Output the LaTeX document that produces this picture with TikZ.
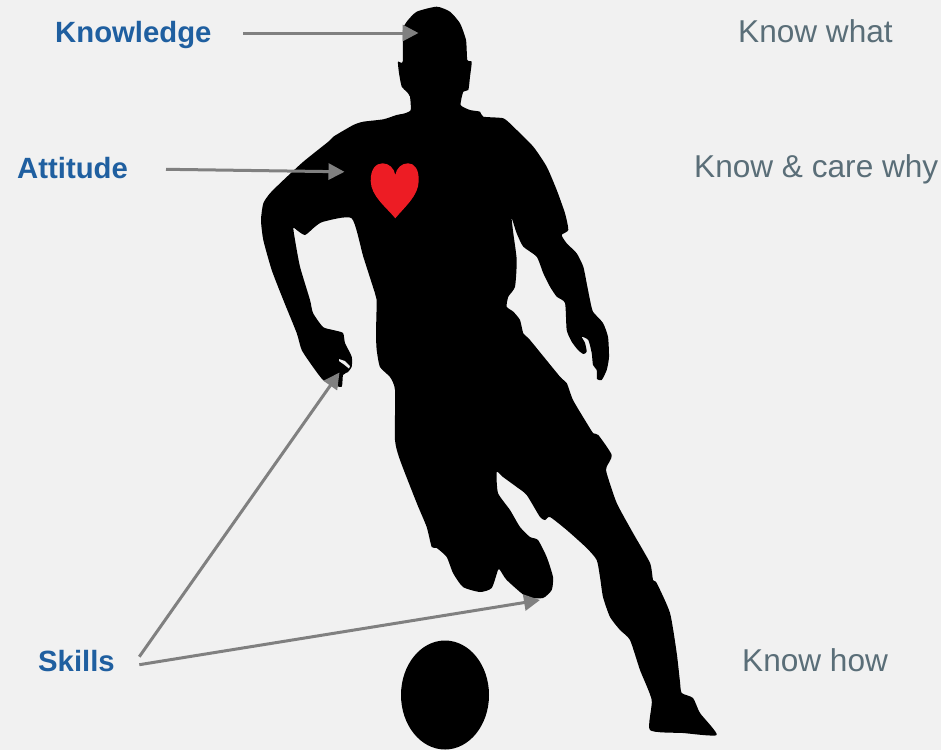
\documentclass[tikz,border=0pt]{standalone}
\usepackage{fontspec}
\setmainfont{Liberation Sans}
\usetikzlibrary{arrows.meta,shapes.geometric}
\definecolor{bg}{HTML}{F1F1F1}
\definecolor{labblue}{HTML}{1F5FA0}
\definecolor{descgray}{HTML}{5A6E78}
\definecolor{arrgray}{HTML}{808080}
\definecolor{heartred}{HTML}{ED1C24}
\tikzset{
  lab/.style={font=\bfseries\fontsize{29.3}{34}\selectfont, text=labblue, inner sep=0pt, anchor=base west},
  desc/.style={font=\fontsize{31.6}{37}\selectfont, text=descgray, inner sep=0pt, anchor=base west},
  arr/.style={draw=arrgray, line width=3pt, -{Triangle[length=16pt,width=16pt]}},
  silhouette/.style={fill=black}
}
\begin{document}
\begin{tikzpicture}[x=1pt,y=-1pt]
\path[fill=bg] (0,0) rectangle (941,750);
\useasboundingbox (0,0) rectangle (941,750);

% player silhouette
\fill[silhouette] plot[smooth cycle, tension=0.35] coordinates {
(436.7,6.7) (450,11.7) (460,23.3) (466,40) (467.3,60) (471.7,61.7) (470,76.7) (468.3,90) (463.3,91.7) (460.7,105) (470,110) (480,111.7) (483.3,116.7) (503.3,118.3) (513.3,126.7) (533.3,146.7) (546.7,166.7) (556.7,190) (565,213.3) (568.3,230) (561.7,235) (566.7,243.3) (576.7,253.3) (583.3,266.7) (586.7,283.3) (590,300) (593,311.7) (603,323) (608,337) (609,357) (606.7,370) (601.7,380) (597,379) (596.7,370) (593,365) (591.7,353) (588.3,340) (581.7,336.7) (585,343) (586.7,351.7) (583.3,354) (578,350) (571.7,341.7) (566.7,330) (565,303) (556.7,296.7) (550,286.7) (543.3,273.3) (536.7,256.7) (523.3,246.7) (516.7,233.3) (511.7,218.3) (513.3,233.3) (516.7,260) (515,286.7) (508.3,296.7) (506.7,306.7) (513.3,311.7) (520,320) (523.3,333.3) (530,340) (560,376.7) (566.7,383) (573,400) (586.7,423) (593.3,433.3) (598.3,435) (611.7,455) (606.7,466.7) (606.7,473.3) (616.7,503) (633,533) (650,563) (653,580) (656.7,583) (670,613) (676.7,653) (680,682) (681.7,693) (693,698) (700,713) (716.7,735) (683,733) (650,730) (651.7,700) (640,670) (630,640) (620,630) (610,617) (603,597) (600,577) (596.7,560) (586.7,548) (566.7,530) (550,517) (545,520) (540,517) (526.7,495) (516.7,487) (503,477) (496.7,472) (498,493) (510,510) (520,527) (530,537) (538,540) (546.7,557) (553,577) (551.7,590) (543,598) (526.7,597) (506.7,580) (500,570) (498,570) (491.7,588) (480,592) (463,587) (453,573) (446.7,557) (436.7,548) (431.7,547) (426.7,527) (416.7,503) (400,460) (395,440) (395,390) (390,377) (380,367) (376.7,350) (376,333.3) (376.7,300) (375,293.3) (363.3,256.7) (351.7,218.3) (323.3,221.7) (315,226.7) (305,235) (296.7,230) (293.3,227.7) (295,240) (300,266.7) (310,300) (313,313) (323,327) (333,330) (343,333) (345,343) (351.7,356.7) (351.7,366.7) (348,372) (343,375) (341.7,386.7) (333,385) (323,380) (313,367) (301.7,350) (296.7,333) (283.3,300) (271.7,270) (263.3,240) (261,220) (263.3,203.3) (270,193.3) (281.7,181.7) (303.3,161.7) (328.3,141.7) (333.3,136.7) (353.3,125) (363.3,121.7) (383.3,119.3) (396.7,115) (405,113.3) (410.7,110) (410,96.7) (406.7,91.7) (401.7,86.7) (399,73) (398,61.7) (402.7,61.7) (403,30) (406.7,21.7) (416.7,11.7)
};
% thumb gap on the left hand
\fill[bg] (339,359) -- (345,361) -- (350,366) -- (349,368.5) -- (344,364.5) -- (339,361) -- cycle;

% heart
\fill[heartred] (395.3,218.3) .. controls (386,207) and (371,196) .. (370.7,181)
  .. controls (370.5,169) and (376,163.3) .. (382.5,163.3)
  .. controls (389,163.3) and (394,168) .. (395.3,175)
  .. controls (396.6,168) and (401.5,163.3) .. (408,163.3)
  .. controls (414.5,163.3) and (419,169) .. (418.7,181)
  .. controls (418.4,196) and (404.5,207) .. (395.3,218.3) -- cycle;

% ball
\node[fill=black, ellipse, minimum width=88pt, minimum height=109pt, inner sep=0pt] (ball) at (445,695) {};

% labels
\node[lab] (knowledge) at (55,42.5) {Knowledge};
\node[lab] (attitude) at (17,178) {Attitude};
\node[lab] (skills) at (38,671.5) {Skills};
\node[desc] (knowwhat) at (738,42.5) {Know what};
\node[desc] (knowcare) at (694,177) {Know \& care why};
\node[desc] (knowhow) at (742,671) {Know how};

% arrow ends
\coordinate (kstart) at (243,33);
\coordinate (kend) at (418.5,33);
\coordinate (astart) at (166,169.3);
\coordinate (aend) at (344.5,171.8);
\coordinate (sstart1) at (139.3,656.7);
\coordinate (send1) at (339.5,372.5);
\coordinate (sstart2) at (139.3,664.7);
\coordinate (send2) at (540,600);

\draw[arr] (kstart) -- (kend);
\draw[arr] (astart) -- (aend);
\draw[arr] (sstart1) -- (send1);
\draw[arr] (sstart2) -- (send2);
\end{tikzpicture}
\end{document}
